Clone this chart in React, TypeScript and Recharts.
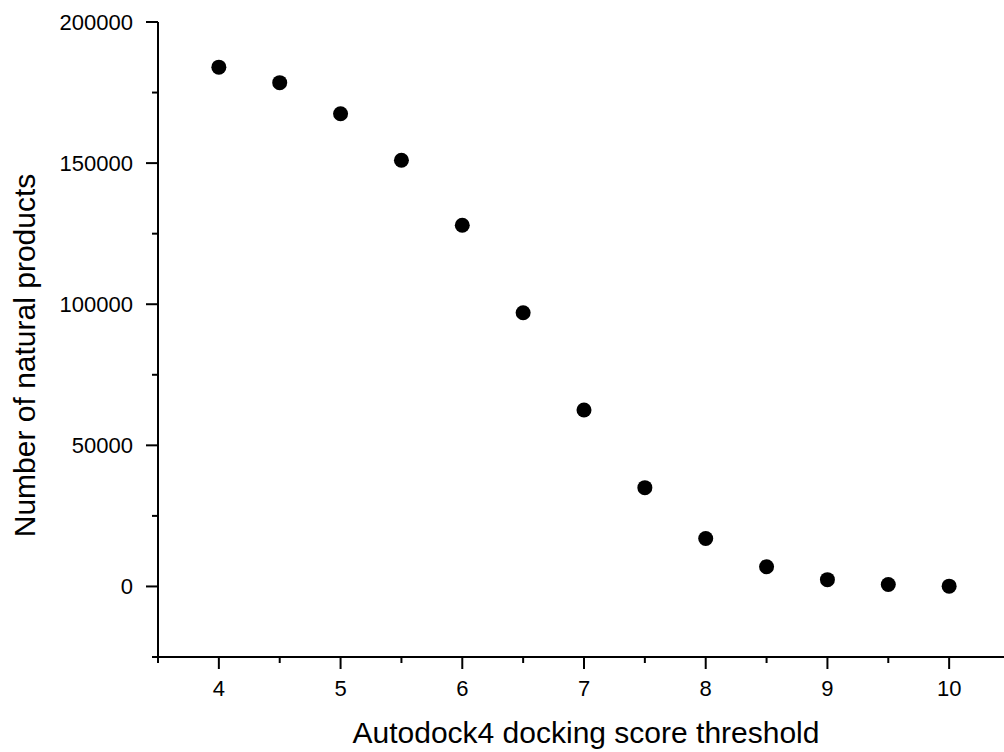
import React from "react";
import { ScatterChart, Scatter, XAxis, YAxis } from "recharts";

const thresholds = [4, 4.5, 5, 5.5, 6, 6.5, 7, 7.5, 8, 8.5, 9, 9.5, 10];
const counts = [184000, 178500, 167500, 151000, 128000, 97000, 62500, 35000, 17000, 7000, 2400, 700, 100];
const xTicks = [3.5, 4, 4.5, 5, 5.5, 6, 6.5, 7, 7.5, 8, 8.5, 9, 9.5, 10, 10.5];
const yTicks = [-25000, 0, 25000, 50000, 75000, 100000, 125000, 150000, 175000, 200000];
const xTitle = "Autodock4 docking score threshold";
const yTitle = "Number of natural products";

const data = thresholds.map((x, i) => ({ x, y: counts[i] }));

const FONT = "Arial, 'Liberation Sans', sans-serif";

const XTick = (props: any) => {
  const { x, y, payload } = props;
  const v = payload.value as number;
  const major = Number.isInteger(v);
  return (
    <g>
      <line x1={x} x2={x} y1={y} y2={y + (major ? 12 : 6)} stroke="#000" strokeWidth={2} />
      {major && (
        <text x={x} y={y + 39} textAnchor="middle" fontSize={22} fontFamily={FONT} fill="#000">
          {v}
        </text>
      )}
    </g>
  );
};

const YTick = (props: any) => {
  const { x, y, payload } = props;
  const v = payload.value as number;
  const major = v % 50000 === 0;
  return (
    <g>
      <line x1={x} x2={x - (major ? 12 : 6)} y1={y} y2={y} stroke="#000" strokeWidth={2} />
      {major && (
        <text x={x - 25} y={y + 8} textAnchor="end" fontSize={22} fontFamily={FONT} fill="#000">
          {v}
        </text>
      )}
    </g>
  );
};

const XTitle = (props: any) => {
  const vb = props.viewBox || {};
  return (
    <text x={vb.x + vb.width / 2 + 2} y={vb.y + 86} textAnchor="middle" fontSize={30} fontFamily={FONT} fill="#000">
      {xTitle}
    </text>
  );
};

const YTitle = (props: any) => {
  const vb = props.viewBox || {};
  const cx = 35;
  const cy = vb.y + vb.height / 2 + 16;
  return (
    <text x={cx} y={cy} transform={`rotate(-90, ${cx}, ${cy})`} textAnchor="middle" fontSize={30} fontFamily={FONT} fill="#000">
      {yTitle}
    </text>
  );
};

export default function App() {
  return (
    <div style={{ position: "absolute", left: 0, top: 0, width: 1004, height: 752, overflow: "hidden", background: "#fff" }}>
      <ScatterChart width={1020} height={752} margin={{ top: 22, right: 10, bottom: 0, left: 0 }}>
        <XAxis
          type="number"
          dataKey="x"
          domain={[3.5, 10.5]}
          ticks={xTicks}
          interval={0}
          height={95}
          tickSize={0}
          tickMargin={0}
          axisLine={{ stroke: "#000", strokeWidth: 2 }}
          tickLine={false}
          tick={<XTick />}
          label={<XTitle />}
        />
        <YAxis
          type="number"
          dataKey="y"
          domain={[-25000, 200000]}
          ticks={yTicks}
          interval={0}
          width={158}
          tickSize={0}
          tickMargin={0}
          axisLine={{ stroke: "#000", strokeWidth: 2 }}
          tickLine={false}
          tick={<YTick />}
          label={<YTitle />}
        />
        <Scatter data={data} fill="#000" isAnimationActive={false} shape={(p: any) => <circle cx={p.cx} cy={p.cy} r={7.5} fill="#000" />} />
      </ScatterChart>
    </div>
  );
}
